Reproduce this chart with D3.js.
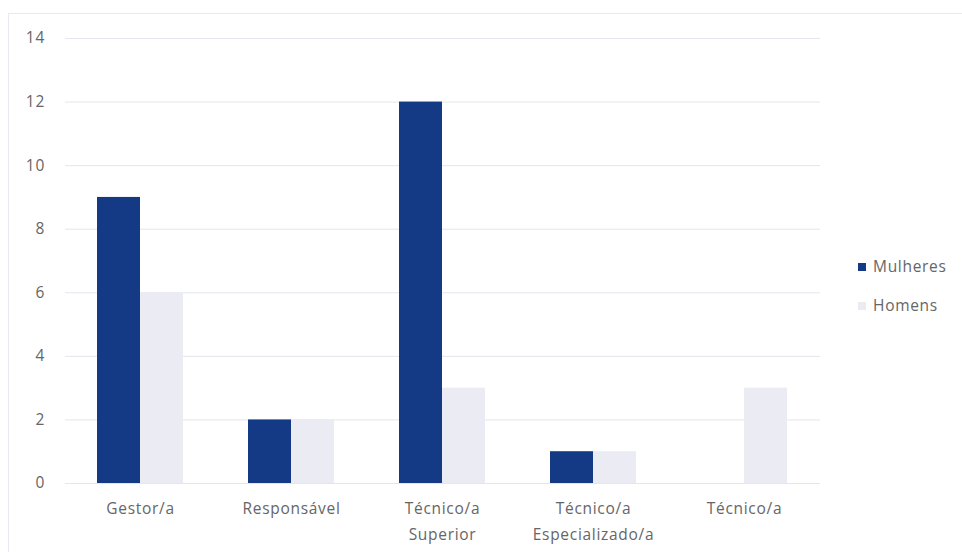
<!DOCTYPE html>
<html lang="pt">
<head>
    <meta charset="UTF-8">
    <title>Mulheres e Homens por cargo</title>
    <script src="https://d3js.org/d3.v7.min.js"></script>
    <style>
        body { margin: 0; background: #fff; }
        text { font-family: 'Open Sans', sans-serif; fill: #666; font-size: 15.5px; letter-spacing: 0.7px; }
    </style>
</head>
<body>
<svg width="962" height="552"></svg>
<script>
    const categories = ["Gestor/a", "Responsável", "Técnico/a\nSuperior", "Técnico/a\nEspecializado/a", "Técnico/a"];
    const seriesNames = ["Mulheres", "Homens"];
    const mulheres = [9, 2, 12, 1, 0];
    const homens = [6, 2, 3, 1, 3];
    const yTicks = [0, 2, 4, 6, 8, 10, 12, 14];
    const colors = ["#143a86", "#ebebf3"];

    const svg = d3.select("svg");

    // faint frame round the plot, like the scanned original
    svg.append("rect").attr("x", 8.5).attr("y", 13.5).attr("width", 960).attr("height", 545)
        .attr("fill", "none").attr("stroke", "#e8e8ee");

    const x = d3.scaleBand().domain(categories).range([65, 820]).paddingInner(0).paddingOuter(0);
    const y = d3.scaleLinear().domain([0, 14]).range([483, 38]);
    const xs = d3.scaleBand().domain(seriesNames).range([32, x.bandwidth() - 33]);

    // grid
    svg.append("g").selectAll("line").data(yTicks).join("line")
        .attr("x1", 65).attr("x2", 820)
        .attr("y1", d => y(d) + 0.5).attr("y2", d => y(d) + 0.5)
        .attr("stroke", "#e4e6ee").attr("stroke-width", 1);

    // y labels
    svg.append("g").selectAll("text").data(yTicks).join("text")
        .attr("x", 45).attr("y", d => y(d)).attr("dy", "0.35em")
        .attr("text-anchor", "end").text(d => d);

    const rows = categories.map((c, i) => ({ c, vals: [mulheres[i], homens[i]] }));
    const groups = svg.append("g").selectAll("g").data(rows).join("g")
        .attr("transform", d => `translate(${x(d.c)},0)`);
    groups.selectAll("rect").data(d => d.vals.map((v, k) => ({ v, k })).filter(e => e.v > 0)).join("rect")
        .attr("x", d => xs(seriesNames[d.k]))
        .attr("width", xs.bandwidth())
        .attr("y", d => y(d.v))
        .attr("height", d => y(0) - y(d.v))
        .attr("fill", d => colors[d.k]);

    // x labels
    const xl = svg.append("g").selectAll("text").data(categories).join("text")
        .attr("x", d => x(d) + x.bandwidth() / 2).attr("y", 514)
        .attr("text-anchor", "middle");
    xl.selectAll("tspan").data(d => d.split("\n")).join("tspan")
        .attr("x", function () { return d3.select(this.parentNode).attr("x"); })
        .attr("dy", (d, i) => i === 0 ? 0 : 26)
        .text(d => d);

    // legend
    const leg = svg.append("g").selectAll("g").data(seriesNames).join("g")
        .attr("transform", (d, i) => `translate(858,${267 + i * 39})`);
    leg.append("rect").attr("x", 0).attr("y", -4).attr("width", 8).attr("height", 8)
        .attr("fill", (d, i) => colors[i]);
    leg.append("text").attr("x", 15).attr("y", 0).attr("dy", "0.35em").text(d => d);
</script>
</body>
</html>
